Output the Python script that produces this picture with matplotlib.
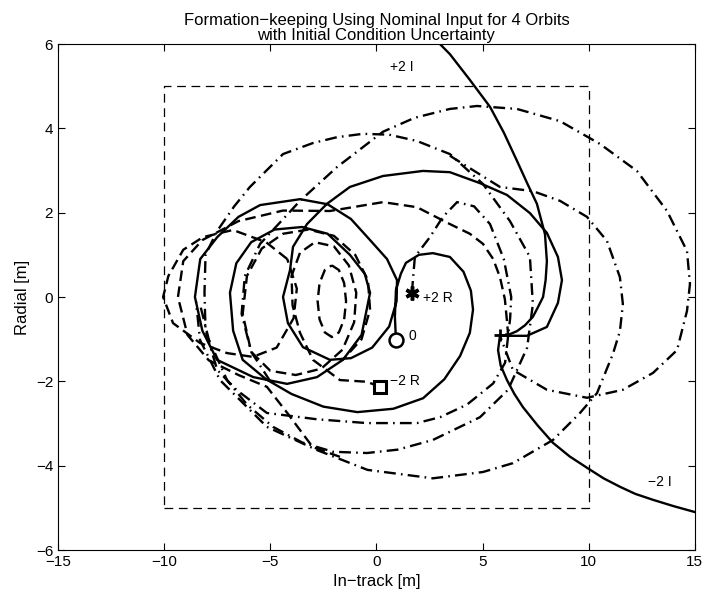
import matplotlib
matplotlib.use("Agg")
import matplotlib.pyplot as plt

plt.rcParams['font.family'] = ['Liberation Sans', 'DejaVu Sans']

# dashed box (allowed region)
box_x = [-10, 10, 10, -10, -10]
box_y = [-5, -5, 5, 5, -5]

# +2 I trajectory (enters from the top, ends at the final point)
plus_i_x = [2.99, 3.46, 4.4, 5.35, 6.0, 6.62, 7.1, 7.56, 7.94, 8.03, 7.97, 7.85, 7.6, 7.37,
            7.0, 6.62, 6.2, 5.82]
plus_i_y = [6.0, 5.76, 5.15, 4.51, 3.9, 3.23, 2.7, 2.21, 1.49, 0.85, 0.4, 0.0, -0.25, -0.47,
            -0.67, -0.81, -0.9, -0.92]

# -2 I trajectory (leaves to the lower right)
minus_i_x = [5.82, 5.73, 5.85, 6.15, 6.5, 6.9, 7.6, 8.32, 9.1, 9.92, 10.7, 11.47, 12.2, 13.03,
             14.0, 15.0]
minus_i_y = [-0.92, -1.26, -1.62, -1.97, -2.3, -2.61, -3.05, -3.46, -3.78, -4.05, -4.3, -4.50,
             -4.67, -4.81, -4.96, -5.10]

# nominal trajectory (solid)
nom_x = [0.92, 0.87, 0.92, 1.15, 1.39, 2.0, 2.66, 3.46, 4.1, 4.45, 4.55, 4.4, 3.94, 3.2, 2.2,
         0.8, -0.9, -2.5, -4.0, -5.2, -6.3, -6.75, -6.9, -6.6, -5.9, -4.8, -3.5, -2.3, -1.25,
         -0.55, -0.3, -0.7, -1.58, -2.8, -4.21, -5.8, -7.51, -8.2, -8.55, -8.3, -7.5, -6.5,
         -5.48, -3.6, -2.3, -1.2, -0.3, 0.5, 0.97, 0.95, 0.6, -0.2, -1.2, -2.19, -3.46, -4.17,
         -4.40, -4.07, -3.93, -3.27, -2.33, -1.25, 0.31, 2.19, 3.46, 4.88, 6.15, 7.23, 8.03,
         8.55, 8.74, 8.55, 8.03, 7.09, 5.82]
nom_y = [-1.02, -0.47, 0.17, 0.55, 0.81, 1.0, 1.04, 0.95, 0.6, 0.15, -0.3, -0.85, -1.4, -1.95,
         -2.4, -2.65, -2.73, -2.6, -2.3, -1.95, -1.49, -0.8, 0.1, 0.8, 1.3, 1.6, 1.66, 1.5, 1.0,
         0.55, 0.1, -0.9, -1.49, -1.9, -2.06, -1.9, -1.49, -0.8, 0.0, 0.9, 1.42, 1.9, 2.18,
         2.32, 2.2, 1.85, 1.35, 0.9, 0.4, -0.1, -0.7, -1.2, -1.45, -1.49, -1.19, -0.62, 0.0,
         0.64, 1.19, 1.73, 2.21, 2.61, 2.87, 2.99, 2.96, 2.70, 2.42, 1.99, 1.52, 0.95, 0.40,
         -0.14, -0.71, -0.92, -0.92]

# -2 R trajectory (dashed): first loops from the start
m2r_x = [0.17, -0.45, -1.72, -2.99, -3.6, -3.95, -4.0, -3.6, -2.9, -2.0, -1.3, -0.95, -1.05,
         -1.6, -2.6, -3.8, -5.0, -5.9, -6.3, -6.1, -5.4, -4.4, -3.2, -2.0, -1.0, -0.4, -0.3,
         -0.7, -1.6]
m2r_y = [-2.13, -2.01, -1.97, -1.49, -0.85, -0.2, 0.5, 1.05, 1.3, 1.2, 0.75, 0.1, -0.6,
         -1.25, -1.7, -1.85, -1.75, -1.3, -0.4, 0.5, 1.15, 1.5, 1.6, 1.45, 1.0, 0.4, -0.3,
         -1.0, -1.5]

# -2 R trajectory (dashed): small inner loop
m2r_small_x = [-2.1, -1.77, -1.52, -1.43, -1.52, -1.77, -2.1, -2.43, -2.68, -2.77, -2.68,
               -2.43, -2.1]
m2r_small_y = [0.75, 0.64, 0.33, -0.1, -0.53, -0.84, -0.95, -0.84, -0.53, -0.1, 0.33, 0.64,
               0.75]

# -2 R trajectory (dashed): outer left loop
m2r_left_x = [-4.2, -5.2, -6.76, -8.17, -9.1, -9.8, -10.05, -9.58, -8.31, -7.04, -5.82, -4.7,
              -3.9, -3.75, -4.2]
m2r_left_y = [0.9, 1.3, 1.59, 1.42, 1.12, 0.5, 0.0, -0.62, -1.09, -1.33, -1.42, -1.2, -0.5,
              0.2, 0.9]

# -2 R trajectory (dashed): last loop to the final point
m2r_last_x = [-1.72, -3.0, -4.2, -5.16, -6.5, -7.9, -8.9, -9.35, -9.1, -8.2, -6.5, -4.4,
              -2.19, 0.31, 1.91, 3.46, 4.4, 5.02, 5.5, 5.82, 6.05, 6.15, 6.2, 5.82]
m2r_last_y = [-3.79, -3.56, -2.75, -2.13, -1.85, -1.5, -0.9, 0.0, 0.85, 1.35, 1.8, 2.05,
              2.04, 2.25, 2.13, 1.73, 1.5, 1.26, 0.9, 0.47, -0.05, -0.57, -0.88, -0.92]

# +2 R trajectory (dash-dot): first two loops
p2r_x = [1.67, 1.81, 2.52, 3.13, 3.8, 4.6, 5.35, 6.0, 6.35, 6.3, 6.06, 5.5, 4.27, 3.0, 1.91,
         -0.45, -2.8, -5.16, -6.6, -7.5, -8.05, -8.1, -8.05, -7.51, -6.7, -5.96, -4.4, -3.0,
         -1.86, -0.63, 0.6, 1.91, 3.46, 5.02, 6.29, 7.23, 7.37, 7.1, 6.2, 4.88, 2.66, 1.0,
         -0.45, -2.05, -3.5, -4.87, -6.1, -7.04, -7.9, -8.3]
p2r_y = [0.10, 0.95, 1.42, 1.90, 2.25, 2.15, 1.73, 0.9, 0.0, -0.5, -1.56, -2.05, -2.55, -2.85,
         -2.99, -2.99, -2.9, -2.75, -2.2, -1.73, -0.8, 0.1, 1.0, 1.56, 2.15, 2.61, 3.39, 3.65,
         3.79, 3.87, 3.85, 3.7, 3.39, 2.68, 1.8, 0.95, -0.17, -1.2, -2.2, -2.85, -3.39, -3.62,
         -3.7, -3.67, -3.45, -3.08, -2.55, -1.97, -1.0, -0.2]

# +2 R trajectory (dash-dot): wide loop on the right
p2r_wide_x = [3.46, 5.82, 7.37, 8.65, 9.92, 10.86, 11.47, 11.61, 11.47, 11.14, 10.39, 9.59,
              8.32, 6.43, 5.02, 2.66, -0.42, -2.8, -5.16, -7.37, -8.31, -8.5]
p2r_wide_y = [3.35, 2.61, 2.51, 2.28, 1.9, 1.33, 0.47, -0.17, -0.81, -1.35, -2.28, -2.75,
              -3.39, -3.94, -4.15, -4.3, -4.1, -3.63, -3.08, -1.97, -1.02, -0.1]

# +2 R trajectory (dash-dot): outer loop to the final point
p2r_out_x = [-5.0, -5.9, -6.35, -6.2, -5.48, -3.6, -1.86, 0.31, 1.8, 3.46, 4.74, 6.62, 8.65,
             10.53, 12.27, 13.69, 14.63, 14.77, 14.63, 14.16, 13.03, 11.61, 9.92, 8.03, 6.43,
             5.82]
p2r_out_y = [-2.0, -1.3, -0.4, 0.5, 1.26, 2.28, 3.08, 3.92, 4.25, 4.46, 4.53, 4.46, 4.17, 3.63,
             2.99, 2.04, 1.09, 0.31, -0.33, -1.26, -1.80, -2.2, -2.39, -2.2, -1.73, -0.92]

fig = plt.figure(figsize=(7.04, 6.07), dpi=100)
ax = fig.add_axes([0.0824, 0.0939, 0.9046, 0.8336])

traj_lw = 1.7
dash = (0, (4.5, 2.3))
dashdot = (0, (5.0, 2.2, 0.7, 2.2))

ax.plot(box_x, box_y, color='black', lw=0.9, linestyle=(0, (7, 4.5)))
for xs, ys in [(nom_x, nom_y), (plus_i_x, plus_i_y), (minus_i_x, minus_i_y)]:
    ax.plot(xs, ys, color='black', lw=traj_lw, solid_joinstyle='round')
dashed_parts = [(m2r_x, m2r_y), (m2r_small_x, m2r_small_y), (m2r_left_x, m2r_left_y),
                (m2r_last_x, m2r_last_y)]
for xs, ys in dashed_parts:
    ax.plot(xs, ys, color='black', lw=traj_lw, linestyle=dash)
for xs, ys in [(p2r_x, p2r_y), (p2r_wide_x, p2r_wide_y), (p2r_out_x, p2r_out_y)]:
    ax.plot(xs, ys, color='black', lw=traj_lw, linestyle=dashdot)

# start / end markers
ax.plot(0.92, -1.02, 'o', mfc='white', mec='black', ms=10, mew=1.8)
ax.plot(1.67, 0.10, marker=(6, 2, 0), color='black', ms=10, mew=2.5)
ax.plot(0.17, -2.13, 's', mfc='white', mec='black', ms=9, mew=2.2)
ax.plot(5.8, -0.9, '+', color='black', ms=8, mew=2.0)

ax.text(1.5, -0.92, '0', fontsize=10, va='center')
ax.text(2.2, -0.02, '+2 R', fontsize=10, va='center')
ax.text(0.64, -2.0, '\u22122 R', fontsize=10, va='center')
ax.text(0.64, 5.45, '+2 I', fontsize=10, va='center')
ax.text(12.8, -4.39, '\u22122 I', fontsize=10, va='center')

ax.set_xlim(-15, 15)
ax.set_ylim(-6, 6)
ax.set_xticks(range(-15, 16, 5))
ax.set_yticks(range(-6, 7, 2))
ax.tick_params(direction='in', top=True, right=True, labelsize=11, length=5)
ax.set_xlabel('In\u2212track [m]', fontsize=12)
ax.set_ylabel('Radial [m]', fontsize=12)
ax.set_title('Formation\u2212keeping Using Nominal Input for 4 Orbits\nwith Initial Condition Uncertainty',
             fontsize=12, linespacing=1.0, pad=3)

fig.savefig('out.png', dpi=100)
